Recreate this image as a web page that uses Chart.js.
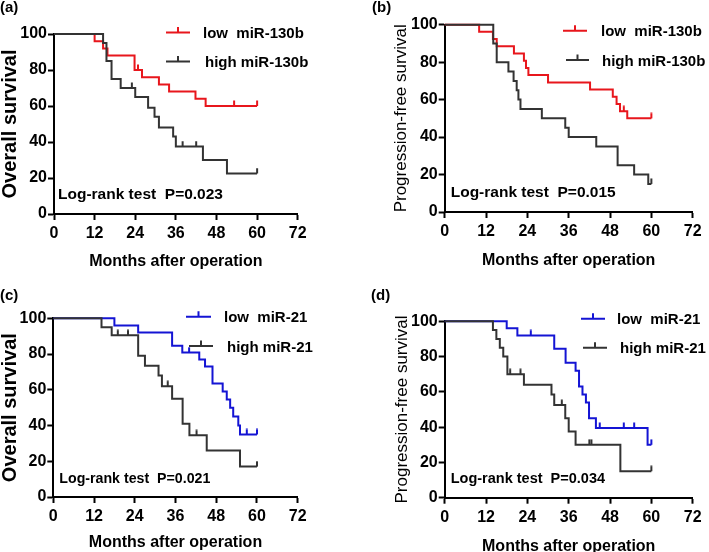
<!DOCTYPE html>
<html><head><meta charset="utf-8">
<script src="https://cdn.jsdelivr.net/npm/chart.js@4.4.1/dist/chart.umd.min.js"></script>
<style>
html,body{margin:0;padding:0;background:#fff;}
#wrap{position:relative;width:709px;height:552px;overflow:hidden;background:#fff;}
canvas{position:absolute;}
</style></head><body>
<div id="wrap">
<canvas id="pa" width="354" height="276" style="left:0px;top:0px"></canvas>
<canvas id="pb" width="355" height="276" style="left:354px;top:0px"></canvas>
<canvas id="pc" width="354" height="276" style="left:0px;top:276px"></canvas>
<canvas id="pd" width="355" height="276" style="left:354px;top:276px"></canvas>
</div>
<script>
// ---- tick labels ----
const xTickVals = [0, 12, 24, 36, 48, 60, 72];
const yTickVals = [0, 20, 40, 60, 80, 100];
const followUpEnd = 60;

// ---- (a) Overall survival, miR-130b ----
const aLowTime  = [0, 12, 14.5, 15.8, 23.8, 26, 31, 34, 41.8, 44.8];
const aLowSurv  = [100, 96, 92, 88, 80, 76, 72, 68, 64, 60];
const aLowCens  = [24.8, 53.2, 60];
const aHighTime = [0, 14.5, 15.5, 17, 19.7, 24, 27.8, 29.7, 31, 35.2, 36, 44, 51.1];
const aHighSurv = [100, 95, 85, 75, 70, 65, 59, 54, 48, 43, 37.5, 30, 22.5];
const aHighCens = [23, 38, 42, 60];

// ---- (b) Progression-free survival, miR-130b ----
const bLowTime  = [0, 10, 14, 15.1, 20.1, 23, 23.6, 24.3, 30, 42.2, 48.8, 49.9, 50.9, 53];
const bLowSurv  = [100, 96.2, 92.3, 88.5, 84.6, 80.8, 76.9, 73.1, 69.2, 65.4, 61.5, 57.7, 53.8, 50];
const bLowCens  = [52, 60];
const bHighTime = [0, 14.1, 15.1, 18.5, 20, 20.9, 21.4, 22, 28.2, 35, 36, 44, 50.2, 55, 59.1];
const bHighSurv = [100, 90, 80, 75, 70, 65, 60, 55, 50, 45, 40, 35, 25, 20, 15];
const bHighCens = [60];

// ---- (c) Overall survival, miR-21 ----
const cLowTime  = [0, 18, 25, 35, 38, 43, 44.7, 46.9, 49.9, 51.1, 52.1, 53, 54.5, 55];
const cLowSurv  = [100, 96, 92, 84.6, 80.8, 77, 73, 63.5, 59, 54.5, 50, 45, 40, 35];
const cLowCens  = [40, 57, 60];
const cHighTime = [0, 14.2, 17.2, 25, 27, 31, 32, 35, 38.1, 40.1, 45.2, 55];
const cHighSurv = [100, 95, 90.5, 79, 73.5, 68, 62, 55, 41, 34.5, 26, 17];
const cHighCens = [19, 22, 33.7, 42.2, 60];

// ---- (d) Progression-free survival, miR-21 ----
const dLowTime  = [0, 18, 21.1, 31.8, 35.1, 38, 39, 40, 41, 41.9, 43.9, 58.9];
const dLowSurv  = [100, 96, 92, 84.5, 76.5, 72, 63, 58.5, 54, 45, 39.5, 30];
const dLowCens  = [25, 45, 52, 55, 60];
const dHighTime = [0, 14, 15, 16, 17, 18.2, 23, 31, 31.8, 35, 36, 38, 51];
const dHighSurv = [100, 95, 90, 85, 80, 70, 64, 58.5, 52.5, 45, 37.5, 30, 15];
const dHighCens = [19, 22, 34, 42, 42.6, 60];

const names130 = ['low  miR-130b', 'high miR-130b'];
const names21  = ['low  miR-21', 'high miR-21'];
const pValues  = ['P=0.023', 'P=0.015', 'P=0.021', 'P=0.034'];

const FONT = '"Liberation Sans", Arial, Helvetica, sans-serif';
const RED = '#e8161c', DARK = '#333333', BLUE = '#1414d4';

function stepPts(t, s) {
  const pts = t.map((x, i) => ({x: x, y: s[i]}));
  pts.push({x: followUpEnd, y: s[s.length - 1]});
  return pts;
}
function survAt(t, s, x) {
  let v = s[0];
  for (let i = 0; i < t.length; i++) if (t[i] <= x) v = s[i];
  return v;
}
function censPts(t, s, c) { return c.map(x => ({x: x, y: survAt(t, s, x)})); }
function tickImg(color) {
  const c = document.createElement('canvas');
  c.width = 4; c.height = 12;
  const g = c.getContext('2d');
  g.strokeStyle = color; g.lineWidth = 2;
  g.beginPath(); g.moveTo(2, 0.5); g.lineTo(2, 6); g.stroke();
  return c;
}

const annotPlugin = {
  id: 'annot',
  afterDraw(chart, args, o) {
    const ctx = chart.ctx;
    ctx.save();
    ctx.fillStyle = '#000';
    ctx.textBaseline = 'alphabetic';
    ctx.textAlign = 'left';
    ctx.font = 'bold 15px ' + FONT;
    ctx.fillText(o.label, o.labelX, o.labelY);
    ctx.font = 'bold ' + o.testSize + 'px ' + FONT;
    ctx.fillText('Log-rank test  ' + o.p, o.testX, o.testY);
    o.legend.forEach(it => {
      ctx.strokeStyle = it.color; ctx.lineWidth = 2;
      const mx = (it.x1 + it.x2) / 2;
      ctx.beginPath();
      ctx.moveTo(it.x1, it.y); ctx.lineTo(it.x2, it.y);
      ctx.moveTo(mx, it.y); ctx.lineTo(mx, it.y - 5.5);
      ctx.stroke();
      ctx.fillStyle = '#000';
      ctx.font = 'bold 15px ' + FONT;
      ctx.fillText(it.text, it.tx, it.y + 5.5);
    });
    ctx.restore();
  }
};

function makeChart(id, p) {
  const canvas = document.getElementById(id);
  const W = canvas.width, H = canvas.height;
  const lineDs = (pts, color) => ({data: pts, borderColor: color, borderWidth: 2, stepped: true,
    pointRadius: 0, fill: false, clip: false, tension: 0});
  const censDs = (pts, color) => ({data: pts, showLine: false, pointStyle: tickImg(color),
    pointRadius: 3, clip: false, borderColor: color, backgroundColor: color});
  new Chart(canvas, {
    type: 'line',
    data: {datasets: [
      censDs(censPts(p.highT, p.highS, p.highC), DARK),
      censDs(censPts(p.lowT, p.lowS, p.lowC), p.lowColor),
      lineDs(stepPts(p.highT, p.highS), DARK),
      lineDs(stepPts(p.lowT, p.lowS), p.lowColor)
    ]},
    options: {
      responsive: false, animation: false, events: [],
      layout: {padding: {left: 0, top: p.area.top, right: W - p.area.right, bottom: 0}},
      plugins: {legend: {display: false}, tooltip: {enabled: false}, annot: p.annot},
      scales: {
        x: {
          type: 'linear', min: 0, max: 72,
          afterFit: s => { s.height = H - p.area.bottom; },
          afterBuildTicks: s => { s.ticks = xTickVals.map(v => ({value: v})); },
          grid: {drawOnChartArea: false, drawTicks: true, tickLength: 6, tickWidth: 2, tickColor: '#000'},
          border: {display: true, color: '#000', width: 2},
          ticks: {color: '#000', font: {family: FONT, size: 16, weight: 'bold'}, padding: 4, maxRotation: 0, autoSkip: false},
          title: {display: true, text: 'Months after operation', color: '#000',
            font: {family: FONT, size: 16, weight: 'bold', lineHeight: 0.7}, padding: {top: 0, bottom: p.xTitlePad}}
        },
        y: {
          type: 'linear', min: 0, max: 100,
          afterFit: s => { s.width = p.area.left; },
          afterBuildTicks: s => { s.ticks = yTickVals.map(v => ({value: v})); },
          grid: {drawOnChartArea: false, drawTicks: true, tickLength: 6, tickWidth: 2, tickColor: '#000'},
          border: {display: true, color: '#000', width: 2},
          ticks: {color: '#000', font: {family: FONT, size: 16, weight: 'bold'}, padding: 1},
          title: {display: true, text: p.yTitle, color: '#000', font: p.yTitleFont, padding: {top: p.yTitlePad, bottom: 0}}
        }
      }
    },
    plugins: [annotPlugin]
  });
}

const osFont  = {family: FONT, size: 20, weight: 'bold', lineHeight: 1};
const pfsFont = {family: FONT, size: 17, weight: 'normal', lineHeight: 1};

makeChart('pa', {
  lowT: aLowTime, lowS: aLowSurv, lowC: aLowCens, highT: aHighTime, highS: aHighSurv, highC: aHighCens,
  lowColor: RED, area: {left: 54, right: 297.7, top: 34, bottom: 214}, xTitlePad: 8.5,
  yTitle: 'Overall survival', yTitleFont: osFont, yTitlePad: 0,
  annot: {label: '(a)', labelX: 0, labelY: 11.5, p: pValues[0], testSize: 15.5, testX: 58, testY: 199,
    legend: [{color: RED, x1: 166, x2: 190, y: 32.5, tx: 203, text: names130[0]},
             {color: DARK, x1: 166, x2: 190, y: 61.5, tx: 205, text: names130[1]}]}
});
makeChart('pb', {
  lowT: bLowTime, lowS: bLowSurv, lowC: bLowCens, highT: bHighTime, highS: bHighSurv, highC: bHighCens,
  lowColor: RED, area: {left: 90.7, right: 338.7, top: 24.7, bottom: 212}, xTitlePad: 10,
  yTitle: 'Progression-free survival', yTitleFont: pfsFont, yTitlePad: 39,
  annot: {label: '(b)', labelX: 18, labelY: 11.5, p: pValues[1], testSize: 15.5, testX: 96.7, testY: 196.7,
    legend: [{color: RED, x1: 209, x2: 233, y: 30.7, tx: 247, text: names130[0]},
             {color: DARK, x1: 212, x2: 235, y: 60, tx: 248, text: names130[1]}]}
});
makeChart('pc', {
  lowT: cLowTime, lowS: cLowSurv, lowC: cLowCens, highT: cHighTime, highS: cHighSurv, highC: cHighCens,
  lowColor: BLUE, area: {left: 53.3, right: 297.7, top: 42.3, bottom: 221}, xTitlePad: 3.5,
  yTitle: 'Overall survival', yTitleFont: osFont, yTitlePad: 0,
  annot: {label: '(c)', labelX: 0, labelY: 24, p: pValues[2], testSize: 14.2, testX: 59.3, testY: 206.7,
    legend: [{color: BLUE, x1: 186, x2: 211, y: 40.7, tx: 224, text: names21[0]},
             {color: DARK, x1: 189, x2: 213, y: 70, tx: 227, text: names21[1]}]}
});
makeChart('pd', {
  lowT: dLowTime, lowS: dLowSurv, lowC: dLowCens, highT: dHighTime, highS: dHighSurv, highC: dHighCens,
  lowColor: BLUE, area: {left: 90.7, right: 338.7, top: 45.3, bottom: 221.7}, xTitlePad: 0.2,
  yTitle: 'Progression-free survival', yTitleFont: pfsFont, yTitlePad: 40,
  annot: {label: '(d)', labelX: 17, labelY: 24, p: pValues[3], testSize: 14.5, testX: 96.7, testY: 207.3,
    legend: [{color: BLUE, x1: 227, x2: 251, y: 42.7, tx: 263, text: names21[0]},
             {color: DARK, x1: 229, x2: 253, y: 71.7, tx: 266, text: names21[1]}]}
});
</script>
</body></html>
